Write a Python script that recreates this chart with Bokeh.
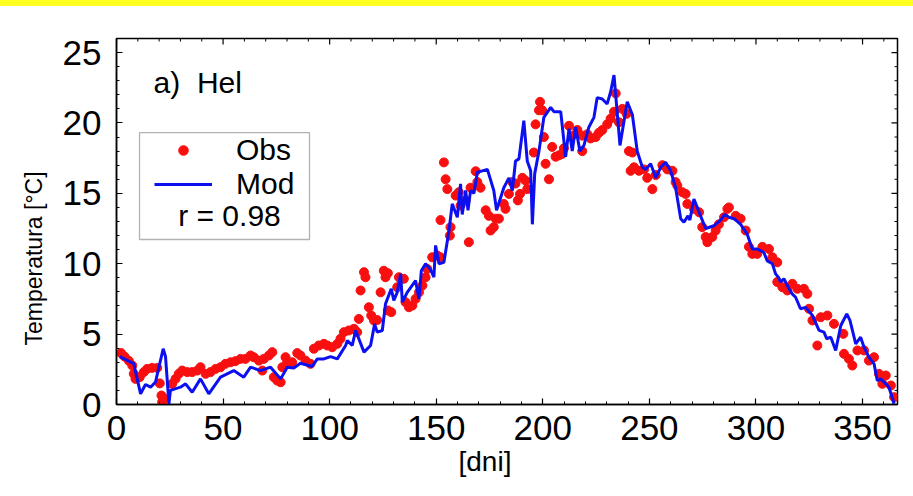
import math
from bokeh.plotting import figure
from bokeh.models import (Range1d, SingleIntervalTicker, LinearAxis, Legend, LegendItem,
                          Label, BoxAnnotation, Div, Title)
from bokeh.layouts import column
from bokeh.embed import file_html
from bokeh.resources import INLINE

# ---------------- data ----------------
obs_day = [2.2, 3.8, 5.8, 7.4, 8.1, 8.9, 10.9, 12.8, 14.4, 16.7, 19.1, 20.3, 21.1, 21.4, 22.5, 26.1, 27.7, 29.2,
           30.8, 33.2, 35.5, 37.9, 39.4, 41.8, 44.1, 46.5, 48.8, 51.1, 53.5, 55.8, 58.2, 60.5, 62.9, 64.4, 66.8,
           68.4, 69.1, 71.5, 73.1, 73.8, 75.4, 77.0, 77.8, 79.3, 80.1, 82.4, 84.8, 86.3, 88.7, 91.0, 92.6, 94.9,
           97.3, 98.9, 101.2, 103.6, 105.1, 106.7, 109.0, 111.4, 112.9, 113.7, 114.5, 116.1, 116.8, 118.4, 119.5,
           120.8, 122.3, 123.9, 125.4, 126.2, 127.3, 127.3, 128.9, 131.7, 132.5, 134.8, 135.6, 137.2, 138.8, 140.3,
           141.9, 143.5, 145.0, 145.8, 148.1, 150.5, 152.0, 152.0, 153.6, 154.4, 155.2, 156.4, 156.7, 159.1, 160.6,
           161.4, 163.8, 165.3, 166.1, 168.5, 169.3, 170.8, 173.2, 174.7, 175.5, 177.0, 177.9, 179.4, 181.7, 182.5,
           184.1, 185.7, 187.2, 188.3, 189.3, 190.4, 191.9, 192.7, 195.8, 196.6, 198.2, 198.7, 199.7, 200.5, 201.3,
           202.9, 204.4, 206.0, 207.6, 209.1, 209.9, 212.3, 213.8, 216.2, 218.5, 218.5, 220.9, 222.4, 224.8, 226.3,
           227.9, 230.2, 231.8, 233.4, 234.2, 235.7, 237.3, 239.3, 240.4, 241.2, 242.0, 242.8, 245.1, 247.5, 249.0,
           251.4, 253.0, 256.1, 258.4, 260.8, 262.3, 263.1, 265.5, 267.0, 267.8, 270.9, 273.3, 274.8, 276.4, 277.2,
           279.5, 281.1, 282.6, 285.0, 286.6, 287.3, 290.5, 292.8, 295.2, 296.7, 298.3, 300.6, 303.0, 306.1, 307.7,
           310.0, 310.0, 312.4, 314.7, 317.1, 319.4, 322.5, 324.1, 324.9, 326.5, 328.8, 330.4, 333.5, 336.6, 341.0,
           341.3, 343.6, 345.2, 347.6, 350.7, 353.0, 355.4, 357.7, 359.3, 360.9, 363.3, 364.8]
obs_temp = [3.65, 3.4, 3.1, 2.77, 2.18, 1.82, 1.94, 2.3, 2.53, 2.6, 2.6, 1.5, 0.64, 0.17, 0.4, 1.47, 1.82, 2.18,
            2.41, 2.3, 2.3, 2.41, 2.65, 2.18, 2.3, 2.53, 2.65, 2.89, 3.0, 3.08, 3.24, 3.24, 3.48, 3.36, 3.12,
            2.41, 3.24, 3.48, 3.72, 1.94, 1.7, 1.58, 2.65, 3.36, 3.0, 3.0, 3.65, 3.48, 3.12, 2.89, 3.96, 4.19,
            4.31, 4.19, 4.07, 4.31, 4.67, 5.14, 5.26, 5.38, 5.14, 6.08, 8.1, 9.4, 9.04, 6.91, 6.32,
            5.97, 6.0, 7.97, 9.5, 9.04, 9.33, 6.68, 6.56, 8.33, 9.04, 8.93, 7.27, 6.91, 7.03, 7.5,
            7.97, 8.45, 9.04, 9.63, 10.46, 10.58, 10.46, 13.1, 17.2, 16.0, 15.3, 12.0, 12.6, 14.84, 15.08,
            14.13, 14.5, 11.53, 15.4, 16.57, 15.8, 15.4, 13.8, 13.4, 12.36, 12.6, 13.2, 13.2, 14.25, 13.9,
            14.96, 15.8, 15.7, 14.5, 14.96, 16.1, 15.9, 15.3, 17.9, 19.9, 20.9, 21.5, 20.9, 19.0, 17.1,
            16.0, 18.3, 17.6, 17.7, 17.8, 18.2, 19.8, 19.1, 19.5, 19.1, 18.0, 19.2, 18.9, 19.0, 19.3,
            19.5, 19.9, 20.3, 20.8, 22.1, 20.05, 21.0, 20.65, 18.0, 16.6, 17.9, 16.85, 16.6, 16.7, 16.1,
            15.3, 16.3, 17.0, 16.7, 16.6, 15.8, 15.55, 15.08, 14.96, 14.25, 13.9, 13.66, 12.6, 11.9, 11.53,
            11.9, 12.36, 12.8, 13.3, 13.9, 14.0, 13.4, 13.2, 12.36, 11.2, 10.7, 10.7, 11.2, 11.05, 10.46,
            10.1, 8.7, 8.33, 8.1, 8.57, 8.22, 8.22, 7.86, 6.8, 5.97, 4.19, 6.2, 6.32, 5.73, 5.02,
            3.6, 3.24, 2.77, 3.84, 3.84, 3.12, 3.36, 2.18, 1.47, 2.06, 1.35, 0.52]

mod_day = [1.5, 8.1, 11.3, 13.6, 16.0, 18.3, 21.9, 23.0, 24.6, 25.3, 30.0, 32.4, 35.5, 39.4, 43.3, 48.8, 55.0,
           59.7, 62.9, 67.6, 72.3, 77.0, 80.1, 83.2, 86.3, 91.8, 94.2, 97.3, 100.4, 103.6, 107.5, 108.3, 110.6,
           112.2, 116.1, 119.2, 121.1, 122.3, 124.7, 126.2, 128.9, 130.1, 131.7, 133.3, 134.1, 136.4, 140.3,
           141.9, 143.0, 145.0, 147.3, 148.9, 149.7, 151.3, 153.6, 156.0, 157.5, 159.9, 161.4, 162.2, 163.8,
           164.9, 166.1, 167.7, 169.3, 171.6, 174.0, 177.0, 178.3, 181.7, 184.1, 185.7, 187.2, 188.8, 191.1,
           192.7, 194.3, 195.1, 196.2, 198.2, 200.5, 203.7, 205.2, 208.4, 210.7, 212.3, 213.8, 215.4, 217.4,
           219.3, 221.6, 224.0, 225.5, 227.9, 230.2, 231.8, 233.4, 236.2, 239.6, 242.0, 244.3, 246.7, 248.2,
           250.6, 253.0, 255.3, 257.6, 260.0, 262.3, 264.7, 266.2, 268.1, 269.0, 270.9, 274.0, 276.4, 280.3,
           283.4, 285.3, 287.3, 289.7, 292.8, 295.9, 298.3, 300.6, 303.7, 305.3, 307.7, 309.2, 310.5, 311.6,
           313.1, 315.5, 317.0, 318.6, 320.9, 323.3, 326.5, 329.6, 331.9, 333.2, 335.1, 337.4, 339.8, 342.6,
           344.1, 346.8, 349.1, 350.7, 353.0, 355.4, 356.9, 358.5, 360.9, 362.4, 364.8]
mod_temp = [3.4, 2.9, 0.76, 1.42, 1.23, 1.6, 3.96, 3.4, 0.05, 1.0, 1.23, 1.47, 0.87, 1.82, 0.76, 1.94, 2.41,
            1.94, 2.65, 2.41, 2.65, 1.82, 2.65, 2.6, 2.93, 2.7, 3.24, 3.24, 3.4, 3.24, 4.19, 4.55, 4.19,
            5.26, 3.72, 4.19, 5.73, 5.14, 5.26, 7.15, 8.22, 7.4, 7.97, 9.28, 7.27, 7.97, 8.8,
            7.5, 9.5, 10.0, 9.6, 9.04, 11.3, 10.0, 10.1, 12.36, 14.25, 13.3, 15.67, 13.5, 15.2,
            13.8, 15.2, 15.0, 16.5, 16.6, 16.7, 15.2, 13.8, 15.4, 16.1, 15.2, 17.3, 17.45, 20.17,
            17.3, 16.6, 12.8, 16.4, 18.0, 20.4, 21.1, 20.8, 20.8, 17.6, 19.6, 18.0, 19.7, 18.0,
            18.4, 19.7, 20.4, 21.8, 21.7, 21.35, 22.2, 23.4, 18.4, 21.5, 20.6, 18.0, 16.85, 16.7,
            17.1, 16.1, 16.85, 17.2, 16.6, 15.4, 13.2, 12.95, 13.4, 13.1, 14.6, 13.4, 12.5, 12.7,
            13.1, 13.5, 13.3, 13.2, 12.8, 12.1, 11.05, 11.05, 10.8, 10.2, 10.0, 9.28, 9.04, 8.7,
            8.93, 8.22, 7.86, 7.62, 6.8, 6.9, 6.32, 5.26, 5.14, 4.67, 4.78, 3.84, 5.61, 6.44,
            5.97, 4.31, 4.78, 4.07, 3.36, 2.89, 1.7, 1.82, 1.47, 1.23, 0.05]

x_label = "[dni]"
y_label = "Temperatura [°C]"
panel_title = "a)\u00a0\u00a0Hel"
obs_name = "Obs"
mod_name = "Mod"
r_text = "r = 0.98"

X_MAX = 366.4
Y_MAX = 26.0

RED = "#f80f0f"
BLUE = "#0c10f0"
FONT = "Liberation Sans, Arial, sans-serif"

p = figure(width=913, height=490, output_backend="svg", toolbar_location=None,
           x_range=Range1d(0, X_MAX), y_range=Range1d(0, Y_MAX),
           x_axis_location=None, y_axis_location=None,
           min_border_left=116, min_border_right=16, min_border_top=32, min_border_bottom=92)
p.background_fill_color = "white"
p.border_fill_color = "white"
p.outline_line_color = "black"
p.outline_line_width = 1.5
p.xgrid.visible = False
p.ygrid.visible = False


def style_axis(ax):
    ax.axis_line_color = "black"
    ax.axis_line_width = 1.5
    ax.major_tick_in = 6
    ax.major_tick_out = 0
    ax.minor_tick_in = 3
    ax.minor_tick_out = 0
    ax.major_tick_line_color = "black"
    ax.minor_tick_line_color = "black"
    ax.major_tick_line_width = 1.2
    ax.minor_tick_line_width = 1.0
    ax.major_label_text_font = FONT
    ax.major_label_text_font_size = "35px"
    ax.major_label_text_color = "black"


xb = LinearAxis(ticker=SingleIntervalTicker(interval=50, num_minor_ticks=5))
style_axis(xb)
xb.major_label_standoff = 11
p.add_layout(xb, "below")

yl = LinearAxis(ticker=SingleIntervalTicker(interval=5, num_minor_ticks=5))
style_axis(yl)
yl.major_label_standoff = 15
p.add_layout(yl, "left")

# axis titles as side titles, so they can sit off-centre like in the reference
x_title = Title(text=x_label, align="left", offset=342, standoff=2,
                text_font=FONT, text_font_size="28px", text_font_style="normal", text_color="black")
p.add_layout(x_title, "below")
y_title = Title(text=y_label, align="left", offset=59, standoff=26,
                text_font=FONT, text_font_size="23px", text_font_style="normal", text_color="black")
p.add_layout(y_title, "left")

# mirrored inward ticks on the top and right frame edges (half of each dash is clipped by the frame)
x_major = list(range(0, int(X_MAX) + 1, 50))
x_minor = [v for v in range(0, int(X_MAX) + 1, 10) if v % 50]
y_major = list(range(0, int(Y_MAX) + 1, 5))
y_minor = [v for v in range(0, int(Y_MAX) + 1) if v % 5]
p.scatter(x_major, [Y_MAX] * len(x_major), marker="dash", angle=math.pi / 2, size=12,
          line_color="black", line_width=1.2)
p.scatter(x_minor, [Y_MAX] * len(x_minor), marker="dash", angle=math.pi / 2, size=6,
          line_color="black", line_width=1.0)
p.scatter([X_MAX] * len(y_major), y_major, marker="dash", size=12, line_color="black", line_width=1.2)
p.scatter([X_MAX] * len(y_minor), y_minor, marker="dash", size=6, line_color="black", line_width=1.0)

obs_r = p.scatter(obs_day, obs_temp, size=9, color=RED, line_color=RED)
mod_r = p.line(mod_day, mod_temp, line_color=BLUE, line_width=3)

legend = Legend(items=[LegendItem(label=obs_name, renderers=[obs_r]),
                       LegendItem(label=mod_name, renderers=[mod_r])],
                location=(38, 203), padding=0, spacing=0, margin=0,
                glyph_width=58, glyph_height=24, label_height=32, label_standoff=24,
                label_text_font=FONT, label_text_font_size="30px", label_text_color="black",
                border_line_alpha=0, background_fill_alpha=0)
p.add_layout(legend, "center")

box = BoxAnnotation(left=10.8, right=90.55, bottom=11.72, top=19.32,
                    fill_alpha=0, line_color="black", line_width=1.3)
p.add_layout(box)

p.add_layout(Label(x=53.0, y=13.45, text=r_text, text_align="center", text_baseline="middle",
                   text_font=FONT, text_font_size="30px", text_color="black"))
p.add_layout(Label(x=17.4, y=22.87, text=panel_title, text_align="left", text_baseline="middle",
                   text_font=FONT, text_font_size="30px", text_color="black"))

strip = Div(text="", width=913, height=6, margin=0,
            styles={"background-color": "#ffff22", "width": "913px", "height": "6px"})
layout = column(strip, p, spacing=0, margin=0)

open("out.html", "w").write(file_html(layout, INLINE))
